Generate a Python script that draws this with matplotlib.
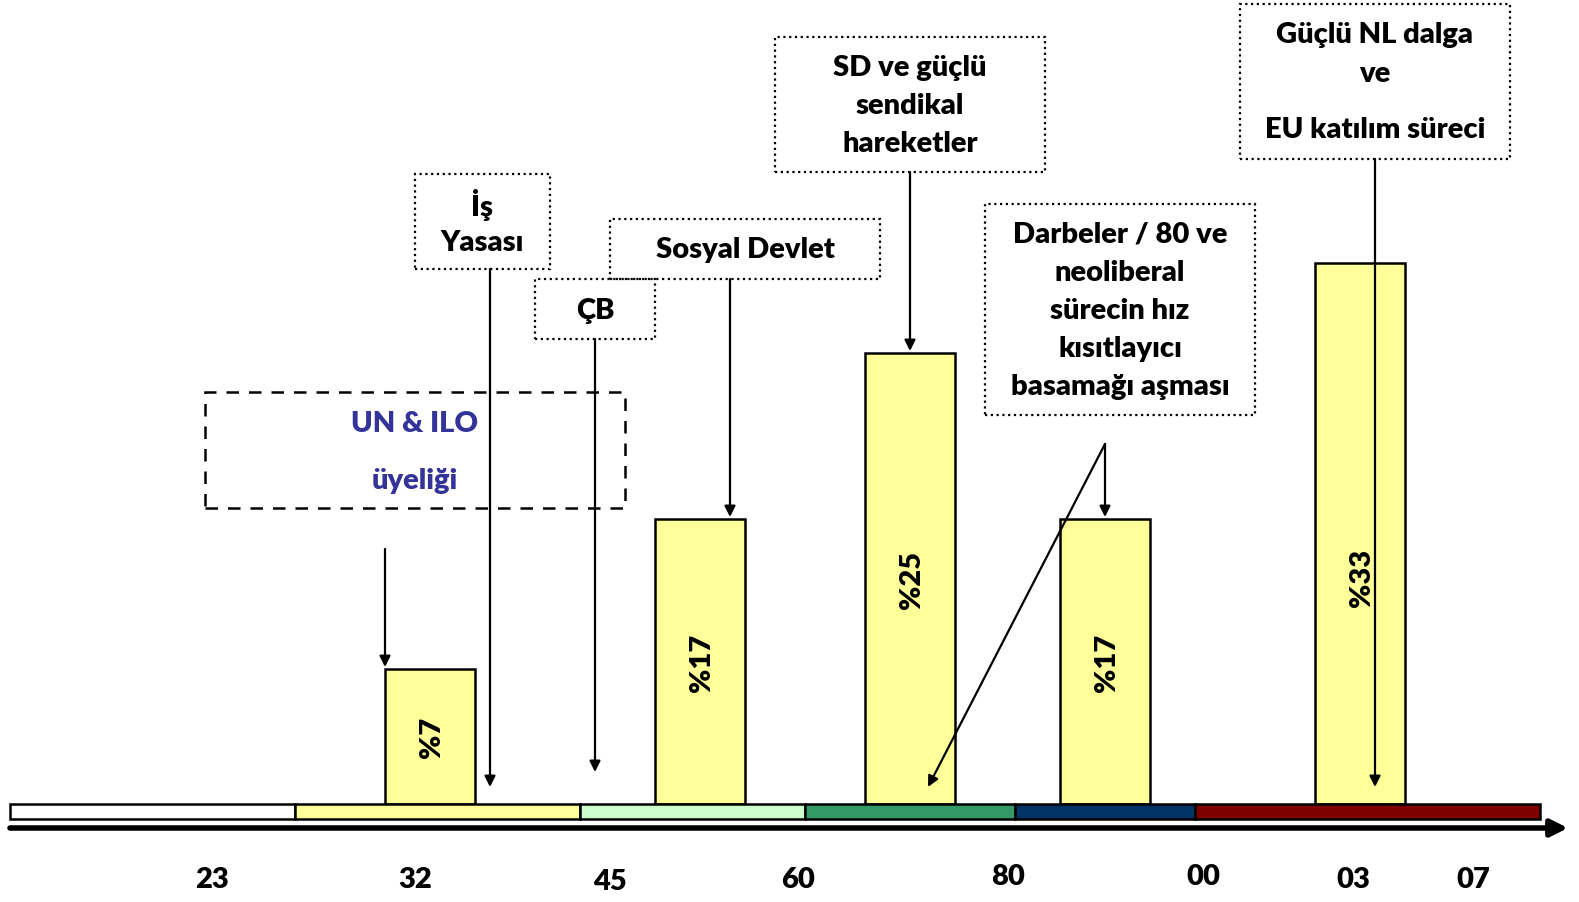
import matplotlib
matplotlib.use("Agg")
import matplotlib.pyplot as plt
from matplotlib.patches import Rectangle

plt.rcParams['font.family'] = ['Lato', 'DejaVu Sans']
plt.rcParams['font.weight'] = 'heavy'

# --- data ---
bar_labels = ['%7', '%17', '%25', '%17', '%33']
bar_heights = [1.35, 2.85, 4.51, 2.85, 5.41]          # drawn heights (axis units)
years = ['23', '32', '45', '60', '80', '00', '03', '07']
period_colors = ['#FFFFFF', '#FFFF99', '#CCFFCC', '#339966', '#003366', '#800000']
period_edges = [10, 295, 580, 805, 1015, 1195, 1540]   # x pixels of period borders

# --- layout (pixels; y measured as (805 - py)/100) ---
def Y(py):
    return (805 - py) / 100.0

bar_x = [430, 700, 910, 1105, 1360]
bar_w = 90
year_x = [212, 415, 610, 798, 1008, 1203, 1353, 1473]
year_y = [880, 880, 882, 880, 877, 877, 880, 880]
FS = 21

fig = plt.figure(figsize=(15.79, 9.03), dpi=100)
ax = fig.add_axes([0, 0, 1, 1])
ax.set_xlim(0, 1579)
ax.set_ylim(Y(903), Y(0))
ax.axis('off')

# bars
ax.bar(bar_x, bar_heights, width=bar_w, bottom=0, color='#FFFF99',
       edgecolor='black', linewidth=1.8, zorder=2)
for x, h, lab in zip(bar_x, bar_heights, bar_labels):
    yc = h / 2 if h < 5 else h * 0.42
    ax.text(x + 2, yc, lab, rotation=90, ha='center', va='center',
            fontsize=FS, zorder=3)

# period strip
for i, c in enumerate(period_colors):
    ax.add_patch(Rectangle((period_edges[i], Y(820)), period_edges[i + 1] - period_edges[i],
                           0.15, facecolor=c, edgecolor='black', linewidth=1.8, zorder=2))

# main time arrow
ax.annotate('', xy=(1568, Y(829)), xytext=(10, Y(829)),
            arrowprops=dict(arrowstyle='-|>', lw=4, color='black',
                            mutation_scale=25, shrinkA=0, shrinkB=0))

for x, yy, t in zip(year_x, year_y, years):
    ax.text(x, Y(yy), t, ha='center', va='center', fontsize=FS)

# boxes
def box(x0, y0, x1, y1, ls=(0, (1, 1.6)), lw=1.6):
    ax.add_patch(Rectangle((x0, Y(y1)), x1 - x0, Y(y0) - Y(y1), fill=False,
                           edgecolor='black', linestyle=ls, linewidth=lw, zorder=4))

def lines(xc, ys, texts, color='black'):
    for yy, t in zip(ys, texts):
        ax.text(xc, Y(yy), t, ha='center', va='center', fontsize=FS,
                color=color, zorder=5)

box(415, 175, 550, 270)
lines(482, [205, 243], ['İş', 'Yasası'])
box(535, 280, 655, 340)
lines(595, [311], ['ÇB'])
box(610, 220, 880, 280)
lines(745, [250], ['Sosyal Devlet'])
box(775, 38, 1045, 173)
lines(910, [68, 106, 144], ['SD ve güçlü', 'sendikal', 'hareketler'])
box(985, 205, 1255, 416)
lines(1120, [235, 273, 311, 349, 387],
      ['Darbeler / 80 ve', 'neoliberal', 'sürecin hız', 'kısıtlayıcı', 'basamağı aşması'])
box(1240, 5, 1510, 160)
lines(1375, [35, 74, 130], ['Güçlü NL dalga', 've', 'EU katılım süreci'])
box(205, 393, 625, 509, ls=(0, (5, 4)), lw=1.8)
lines(415, [424, 481], ['UN & ILO', 'üyeliği'], color='#333399')

# pointer arrows
arrows = [((385, 550), (385, 668)), ((490, 270), (490, 788)), ((595, 340), (595, 773)),
          ((730, 280), (730, 518)), ((910, 173), (910, 352)), ((1105, 445), (1105, 518)),
          ((1105, 445), (928, 788)), ((1375, 160), (1375, 788))]
for (x0, y0), (x1, y1) in arrows:
    ax.annotate('', xy=(x1, Y(y1)), xytext=(x0, Y(y0)),
                arrowprops=dict(arrowstyle='-|>', lw=1.6, color='black',
                                mutation_scale=16, shrinkA=0, shrinkB=0), zorder=6)

fig.savefig('out.png', dpi=100, facecolor='white')
